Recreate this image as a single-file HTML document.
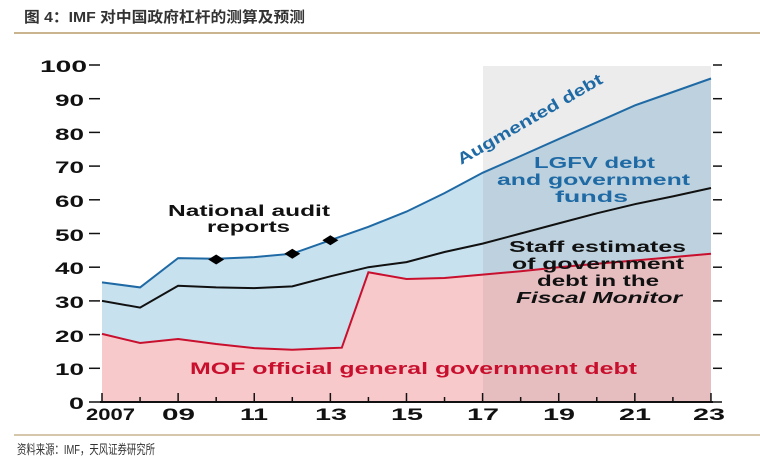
<!DOCTYPE html>
<html><head><meta charset="utf-8"><style>
body{margin:0;background:#fff;width:760px;height:461px;overflow:hidden}
svg{display:block}
text{font-family:"Liberation Sans","Noto Sans CJK SC",sans-serif}
</style></head><body>
<svg id="s" width="760" height="461" viewBox="0 0 760 461">
<text x="24" y="22" font-size="15" font-weight="bold" fill="#333" textLength="281" lengthAdjust="spacingAndGlyphs">图 4：IMF 对中国政府杠杆的测算及预测</text>
<line x1="14" y1="33" x2="760" y2="33" stroke="#c9b48f" stroke-width="2"/>
<g id="plot"></g>
<g font-weight="bold" font-size="17" fill="#111" lengthAdjust="spacingAndGlyphs">
<text x="40" y="72" textLength="47" lengthAdjust="spacingAndGlyphs">100</text>
<text x="55" y="106" textLength="29" lengthAdjust="spacingAndGlyphs">90</text>
<text x="55" y="140" textLength="29" lengthAdjust="spacingAndGlyphs">80</text>
<text x="55" y="173" textLength="29" lengthAdjust="spacingAndGlyphs">70</text>
<text x="55" y="207" textLength="29" lengthAdjust="spacingAndGlyphs">60</text>
<text x="55" y="241" textLength="29" lengthAdjust="spacingAndGlyphs">50</text>
<text x="55" y="274" textLength="29" lengthAdjust="spacingAndGlyphs">40</text>
<text x="55" y="308" textLength="29" lengthAdjust="spacingAndGlyphs">30</text>
<text x="55" y="342" textLength="29" lengthAdjust="spacingAndGlyphs">20</text>
<text x="55" y="375" textLength="29" lengthAdjust="spacingAndGlyphs">10</text>
<text x="69" y="409" textLength="15" lengthAdjust="spacingAndGlyphs">0</text>
</g>
<g font-weight="bold" font-size="17" fill="#111">
<text x="86" y="420" textLength="49" lengthAdjust="spacingAndGlyphs">2007</text>
<text x="162" y="420" textLength="33" lengthAdjust="spacingAndGlyphs">09</text>
<text x="240" y="420" textLength="28" lengthAdjust="spacingAndGlyphs">11</text>
<text x="315" y="420" textLength="32" lengthAdjust="spacingAndGlyphs">13</text>
<text x="391" y="420" textLength="32" lengthAdjust="spacingAndGlyphs">15</text>
<text x="467" y="420" textLength="32" lengthAdjust="spacingAndGlyphs">17</text>
<text x="543" y="420" textLength="32" lengthAdjust="spacingAndGlyphs">19</text>
<text x="619" y="420" textLength="32" lengthAdjust="spacingAndGlyphs">21</text>
<text x="693" y="420" textLength="32" lengthAdjust="spacingAndGlyphs">23</text>
</g>
<g font-weight="bold" font-size="16">
<text x="0" y="0" fill="#1f6aa5" transform="translate(461,165) rotate(-30)" textLength="165" lengthAdjust="spacingAndGlyphs">Augmented debt</text>
<text x="534" y="168" fill="#1f6aa5" textLength="121" lengthAdjust="spacingAndGlyphs">LGFV debt</text>
<text x="497" y="185" fill="#1f6aa5" textLength="193" lengthAdjust="spacingAndGlyphs">and government</text>
<text x="555" y="202" fill="#1f6aa5" textLength="73" lengthAdjust="spacingAndGlyphs">funds</text>
<text x="168" y="216" fill="#111" textLength="162" lengthAdjust="spacingAndGlyphs">National audit</text>
<text x="207" y="232" fill="#111" textLength="83" lengthAdjust="spacingAndGlyphs">reports</text>
<text x="509" y="252" fill="#111" textLength="177" lengthAdjust="spacingAndGlyphs">Staff estimates</text>
<text x="512" y="269" fill="#111" textLength="172" lengthAdjust="spacingAndGlyphs">of government</text>
<text x="537" y="286" fill="#111" textLength="122" lengthAdjust="spacingAndGlyphs">debt in the</text>
<text x="516" y="303" fill="#111" font-style="italic" textLength="166" lengthAdjust="spacingAndGlyphs">Fiscal Monitor</text>
<text x="190" y="374" fill="#c8102e" font-size="17" textLength="447" lengthAdjust="spacingAndGlyphs">MOF official general government debt</text>
</g>
<line x1="14" y1="435" x2="760" y2="435" stroke="#c9b48f" stroke-width="1.5"/>
<text x="17" y="454" font-size="13" fill="#333" textLength="138" lengthAdjust="spacingAndGlyphs">资料来源：IMF，天风证券研究所</text>
</svg>
<script>
var X=y=>102+38.06*(y-2007),Y=v=>402-3.37*v;
var A=[35.5,34,42.7,42.5,43,44,48,52,56.5,62,68,73,78,83,88,92,96];
var S=[30,28,34.5,34,33.8,34.3,37.3,40,41.5,44.5,47,50,53,56,58.7,61,63.5];
var M=[20.2,17.5,18.7,17.2,16,15.5,16,38.5,36.5,36.8,37.8,38.8,40,41,42,43,44];
function pts(a){return a.map((v,i)=>X(2007+i).toFixed(1)+","+Y(v).toFixed(1));}
var h="";
h+='<path d="M'+pts(A).join("L")+'L'+X(2023)+','+Y(0)+'L'+X(2007)+','+Y(0)+'Z" fill="#c7e1ef"/>';
var mp=pts(M);mp.splice(7,0,X(2013.3).toFixed(1)+","+Y(16.1).toFixed(1));mp.splice(8,1,X(2014).toFixed(1)+","+Y(38.5).toFixed(1));
h+='<path d="M'+mp.join("L")+'L'+X(2023)+','+Y(0)+'L'+X(2007)+','+Y(0)+'Z" fill="#f8c9cb"/>';
h+='<rect x="483" y="66" width="228" height="336" fill="#8a8a8a" opacity="0.16"/>';
h+='<polyline points="'+mp.join(" ")+'" fill="none" stroke="#c8102e" stroke-width="2"/>';
h+='<polyline points="'+pts(S).join(" ")+'" fill="none" stroke="#111" stroke-width="2"/>';
h+='<polyline points="'+pts(A).join(" ")+'" fill="none" stroke="#1f6aa5" stroke-width="2"/>';
[[2010,42.3],[2012,44],[2013,48]].forEach(d=>{var x=X(d[0]),y=Y(d[1]);h+='<path d="M'+(x-8)+','+y+'L'+x+','+(y-5)+'L'+(x+8)+','+y+'L'+x+','+(y+5)+'Z" fill="#000"/>';});
h+='<line x1="100" y1="402" x2="713" y2="402" stroke="#111" stroke-width="2"/>';
for(var v=0;v<=100;v+=10){var y=Y(v);h+='<line x1="89" y1="'+y+'" x2="100" y2="'+y+'" stroke="#111" stroke-width="1.5"/><line x1="713" y1="'+y+'" x2="722" y2="'+y+'" stroke="#111" stroke-width="1.5"/>';}
for(var yr=2007;yr<=2023;yr++){var x=X(yr);var l=(yr%2==1)?9:5;h+='<line x1="'+x+'" y1="'+(402-l)+'" x2="'+x+'" y2="402" stroke="#111" stroke-width="1.5"/>';}
document.getElementById("plot").innerHTML=h;
</script>
</body></html>
